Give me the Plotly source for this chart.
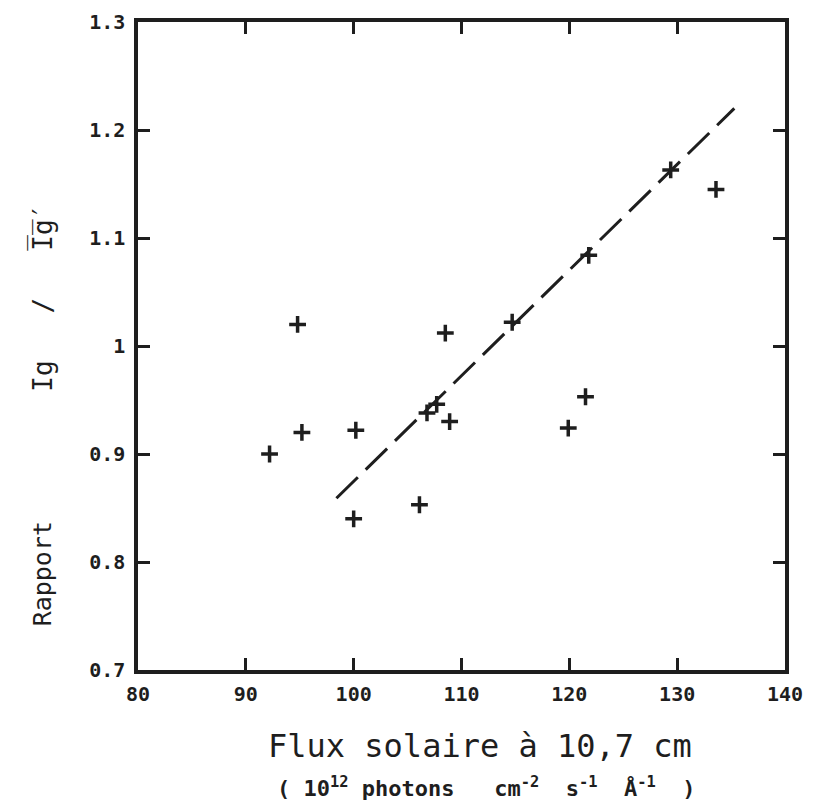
import plotly.graph_objects as go

# Data
flux = [92.2, 95.2, 94.8, 100.2, 100.0, 106.1, 106.8, 107.7, 108.9, 108.5,
        114.7, 119.9, 121.5, 121.8, 129.4, 133.6]
ratio = [0.900, 0.920, 1.020, 0.922, 0.840, 0.853, 0.938, 0.946, 0.930, 1.012,
         1.022, 0.924, 0.953, 1.084, 1.163, 1.145]

fit_x = [98.4, 135.3]
fit_y = [0.859, 1.220]

x_ticks = [80, 90, 100, 110, 120, 130, 140]
x_ticklabels = ["80", "90", "100", "110", "120", "130", "140"]
y_ticks = [0.7, 0.8, 0.9, 1.0, 1.1, 1.2, 1.3]
y_ticklabels = ["0.7", "0.8", "0.9", "1", "1.1", "1.2", "1.3"]

INK = "#1e1e1e"
MONO = "DejaVu Sans Mono"

fig = go.Figure()

fig.add_trace(go.Scatter(
    x=fit_x, y=fit_y, mode="lines",
    line=dict(color=INK, width=3, dash="30px,11px"),
    showlegend=False, hoverinfo="skip"))

fig.add_trace(go.Scatter(
    x=flux, y=ratio, mode="markers",
    marker=dict(symbol="cross-thin", size=12, color=INK,
                line=dict(color=INK, width=3.5)),
    showlegend=False))

axis_common = dict(
    showgrid=False, zeroline=False, automargin=False,
    showline=True, linecolor=INK, linewidth=3.5, mirror="ticks",
    ticks="inside", ticklen=12, tickwidth=3, tickcolor=INK,
    tickfont=dict(family=MONO, size=20, color=INK, weight="bold"),
)

fig.update_xaxes(range=[80, 140], tickmode="array", tickvals=x_ticks,
                 ticktext=x_ticklabels, ticklabelstandoff=3, **axis_common)
fig.update_yaxes(range=[0.7, 1.3], tickmode="array", tickvals=y_ticks,
                 ticktext=y_ticklabels, ticklabelstandoff=5, **axis_common)

annotations = [
    dict(text="Rapport", xref="paper", yref="paper", x=-0.148, y=0.148,
         showarrow=False, textangle=-90, xanchor="center", yanchor="middle",
         font=dict(family=MONO, size=25, color=INK)),
    dict(text="Ig   /   I\u0305g\u0305\u2032", xref="paper", yref="paper",
         x=-0.148, y=0.575,
         showarrow=False, textangle=-90, xanchor="center", yanchor="middle",
         font=dict(family=MONO, size=26, color=INK)),
    dict(text="Flux solaire à 10,7 cm", xref="paper", yref="paper", x=0.528, y=-0.117,
         showarrow=False, xanchor="center", yanchor="middle",
         font=dict(family=MONO, size=32, color=INK)),
    dict(text="( 10<sup>12</sup> photons   cm<sup>-2</sup>  s<sup>-1</sup>  Å<sup>-1</sup>  )",
         xref="paper", yref="paper", x=0.538, y=-0.181,
         showarrow=False, xanchor="center", yanchor="middle",
         font=dict(family=MONO, size=22, color=INK, weight="bold")),
]

# margins compensate for the 8px default body margin of the page
fig.update_layout(
    width=815, height=807,
    margin=dict(l=130, r=38, t=14, b=145),
    paper_bgcolor="white", plot_bgcolor="white",
    annotations=annotations,
)

fig.write_html("out.html")
